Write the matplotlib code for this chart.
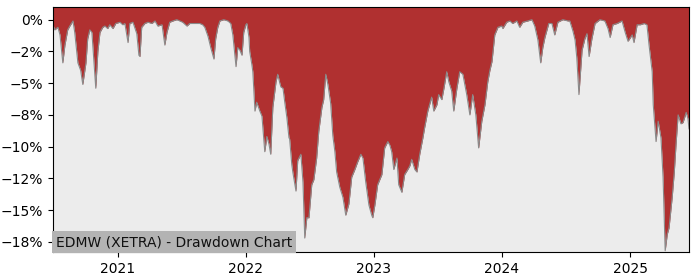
import numpy as np
import pandas as pd
import matplotlib
matplotlib.use('Agg')
import matplotlib.pyplot as plt
import matplotlib.dates as mdates
import matplotlib.transforms as mtransforms
from matplotlib.ticker import PercentFormatter

title = 'EDMW (XETRA) - Drawdown Chart'

dates = [
    '2020-06-30', '2020-07-05', '2020-07-14', '2020-07-20', '2020-07-28', '2020-08-03',
    '2020-08-11', '2020-08-17', '2020-08-26', '2020-08-31', '2020-09-09', '2020-09-17',
    '2020-09-23', '2020-10-02', '2020-10-07', '2020-10-13', '2020-10-19', '2020-10-22',
    '2020-10-30', '2020-11-05', '2020-11-11', '2020-11-19', '2020-11-25', '2020-12-03',
    '2020-12-09', '2020-12-18', '2020-12-26',
    '2021-01-07', '2021-01-15', '2021-01-21', '2021-01-30', '2021-02-04', '2021-02-13',
    '2021-02-24', '2021-03-02', '2021-03-05', '2021-03-10', '2021-03-19', '2021-03-28',
    '2021-04-08', '2021-04-17', '2021-04-25', '2021-05-07', '2021-05-15', '2021-05-21',
    '2021-05-29', '2021-06-07', '2021-06-18', '2021-06-27', '2021-07-05', '2021-07-17',
    '2021-07-25', '2021-08-09', '2021-08-23', '2021-08-31', '2021-09-06', '2021-09-15',
    '2021-09-23', '2021-10-02', '2021-10-07', '2021-10-13', '2021-10-19', '2021-10-30',
    '2021-11-11', '2021-11-19', '2021-11-25', '2021-12-04', '2021-12-09', '2021-12-15',
    '2021-12-21', '2021-12-26',
    '2022-01-01', '2022-01-04', '2022-01-10', '2022-01-12', '2022-01-18', '2022-01-21',
    '2022-01-27', '2022-02-01', '2022-02-10', '2022-02-16', '2022-02-18', '2022-02-24',
    '2022-03-02', '2022-03-08', '2022-03-13', '2022-03-19', '2022-03-28', '2022-04-02',
    '2022-04-08', '2022-04-11', '2022-04-17', '2022-04-22', '2022-04-28', '2022-05-04',
    '2022-05-06', '2022-05-12', '2022-05-15', '2022-05-24', '2022-05-29', '2022-06-07',
    '2022-06-13', '2022-06-18', '2022-06-24', '2022-06-30', '2022-07-08', '2022-07-14',
    '2022-07-22', '2022-07-28', '2022-08-06', '2022-08-11', '2022-08-17', '2022-08-23',
    '2022-08-31', '2022-09-06', '2022-09-12', '2022-09-17', '2022-09-26', '2022-10-05',
    '2022-10-13', '2022-10-22', '2022-10-30', '2022-11-08', '2022-11-16', '2022-11-25',
    '2022-12-01', '2022-12-09', '2022-12-18', '2022-12-26', '2022-12-29',
    '2023-01-04', '2023-01-12', '2023-01-24', '2023-02-01', '2023-02-10', '2023-02-16',
    '2023-02-21', '2023-02-27', '2023-03-08', '2023-03-13', '2023-03-22', '2023-03-30',
    '2023-04-08', '2023-04-14', '2023-04-19', '2023-04-28', '2023-05-04', '2023-05-12',
    '2023-05-21', '2023-05-26', '2023-06-04', '2023-06-15', '2023-06-21', '2023-06-30',
    '2023-07-05', '2023-07-14', '2023-07-20', '2023-07-28', '2023-08-03', '2023-08-11',
    '2023-08-17', '2023-08-26', '2023-09-03', '2023-09-12', '2023-09-23', '2023-10-02',
    '2023-10-10', '2023-10-19', '2023-10-27', '2023-11-05', '2023-11-14', '2023-11-22',
    '2023-11-28', '2023-12-04', '2023-12-12', '2023-12-21',
    '2024-01-01', '2024-01-04', '2024-01-15', '2024-01-24', '2024-02-01', '2024-02-13',
    '2024-02-21', '2024-03-01', '2024-03-15', '2024-03-27', '2024-04-04', '2024-04-13',
    '2024-04-21', '2024-04-27', '2024-05-03', '2024-05-14', '2024-05-23', '2024-05-31',
    '2024-06-09', '2024-06-23', '2024-07-08', '2024-07-13', '2024-07-22', '2024-07-28',
    '2024-08-02', '2024-08-08', '2024-08-17', '2024-08-25', '2024-08-31', '2024-09-06',
    '2024-09-14', '2024-09-23', '2024-10-07', '2024-10-21', '2024-10-30', '2024-11-05',
    '2024-11-13', '2024-11-25', '2024-12-09', '2024-12-18', '2024-12-26',
    '2025-01-07', '2025-01-12', '2025-01-21', '2025-01-30', '2025-02-10', '2025-02-18',
    '2025-02-24', '2025-03-05', '2025-03-08', '2025-03-16', '2025-03-22', '2025-03-30',
    '2025-04-05', '2025-04-11', '2025-04-17', '2025-04-22', '2025-05-01', '2025-05-07',
    '2025-05-12', '2025-05-18', '2025-05-26', '2025-06-01', '2025-06-10', '2025-06-15',
    '2025-06-18',
]

# drawdown in percent
drawdown = [
    -0.4, -0.8, -0.6, -1.2, -3.4, -2.0,
    -0.8, -0.5, -0.1, -1.0, -3.4, -4.0,
    -5.1, -3.4, -1.5, -0.8, -1.0, -2.2,
    -5.4, -2.5, -1.0, -0.6, -0.5, -0.7,
    -0.4, -0.7, -0.3,
    -0.2, -0.4, -0.3, -1.8, -0.3, -0.2,
    -1.1, -2.8, -2.9, -0.6, -0.3, -0.2,
    -0.3, -0.1, -0.5, -0.4, -2.0, -1.0,
    -0.2, -0.1, 0.0, -0.1, -0.2, -0.5,
    -0.3, -0.3, -0.3, -0.4, -0.6, -1.3,
    -2.2, -3.1, -1.5, -0.6, -0.1, 0.0,
    -0.1, -0.3, -1.2, -3.7, -2.2, -2.4,
    -2.8, -1.0,
    -0.4, -0.3, -1.4, -2.5, -3.5, -4.1,
    -7.2, -6.5, -7.2, -7.6, -8.3, -10.4,
    -9.2, -9.8, -10.6, -6.9, -4.9, -4.3,
    -5.0, -5.3, -5.4, -6.5, -7.7, -9.3,
    -9.4, -11.4, -12.0, -13.5, -11.1, -10.6,
    -12.8, -17.2, -15.6, -15.6, -13.0, -12.6,
    -10.9, -8.8, -6.9, -6.3, -4.3, -5.1,
    -6.6, -9.1, -10.4, -12.0, -13.2, -14.0,
    -15.4, -14.5, -12.4, -11.8, -11.2, -10.6,
    -10.9, -12.8, -14.6, -15.4, -15.6,
    -14.6, -13.0, -12.2, -10.1, -9.6, -9.9,
    -10.4, -11.8, -10.9, -13.0, -13.6, -12.2,
    -11.8, -11.5, -11.0, -11.8, -12.0, -10.6,
    -9.3, -8.5, -7.2, -6.1, -7.2, -6.7,
    -5.9, -6.3, -5.4, -4.1, -4.9, -5.6,
    -7.2, -5.4, -4.1, -4.3, -5.9, -7.5,
    -5.9, -7.5, -10.1, -8.0, -6.7, -4.9,
    -4.0, -3.3, -1.2, -0.6,
    -0.5, -0.7, -0.2, -0.1, -0.3, -0.1,
    -0.6, -0.2, -0.1, 0.0, -0.5, -1.6,
    -3.4, -2.2, -1.4, -0.3, -0.3, -1.2,
    -0.2, 0.0, -0.1, -0.1, -0.9, -1.6,
    -3.0, -5.9, -2.4, -1.5, -1.1, -2.9,
    -1.5, -0.3, 0.0, -0.1, -0.7, -1.4,
    -0.4, -0.3, -0.1, -1.0, -1.7,
    -1.2, -1.8, -0.4, -0.4, -0.3, -0.4,
    -2.0, -4.1, -6.7, -9.6, -8.0, -9.3,
    -12.4, -18.2, -16.9, -16.4, -14.0, -12.0,
    -9.8, -7.5, -8.2, -8.1, -7.3, -7.8,
    -8.6,
]

x = pd.to_datetime(dates)
y = np.array(drawdown)

fig = plt.figure(figsize=(7, 2.8), dpi=100)
ax = fig.add_axes([0.0757, 0.1, 0.9086, 0.875])
ax.set_facecolor('#ececec')

top = 1.0
ax.fill_between(x, y, top, color='#b03030', linewidth=0)
ax.plot(x, y, color='#8a8a8a', linewidth=0.8)

ax.set_xlim(x[0], x[-1])
ax.set_ylim(-18.3, top)
ax.set_yticks(np.arange(0, -18, -2.5))
ax.yaxis.set_major_formatter(PercentFormatter(xmax=100, decimals=0))
ax.xaxis.set_major_locator(mdates.YearLocator())
ax.xaxis.set_major_formatter(mdates.DateFormatter('%Y'))

# label box in the lower left corner
shift = mtransforms.offset_copy(ax.transAxes, fig=fig, x=3, y=3, units='dots')
ax.text(0.0, 0.0, title, transform=shift, ha='left', va='bottom',
        fontsize=10, color='#111111',
        bbox=dict(facecolor='#b3b3b3', edgecolor='none', pad=3))

fig.savefig('out.png', dpi=100)
